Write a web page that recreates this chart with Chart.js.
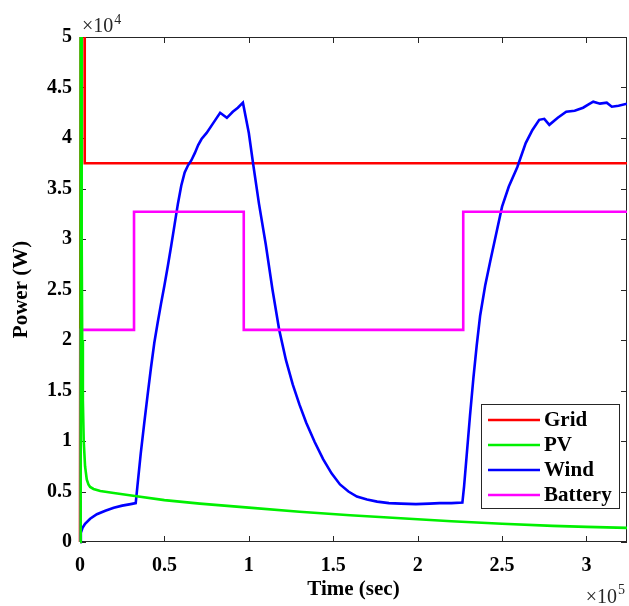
<!DOCTYPE html>
<html>
<head>
<meta charset="utf-8">
<script src="https://cdn.jsdelivr.net/npm/chart.js@4.4.1/dist/chart.umd.min.js"></script>
<style>
  html, body { margin: 0; padding: 0; background: #fff; }
  #wrap { width: 629px; height: 606px; }
</style>
</head>
<body>
<div id="wrap"><canvas id="powerChart" width="629" height="606"></canvas></div>
<script>
// tick positions (axis units: x in 1e5 s, y in 1e4 W)
const xTicks = [0, 0.5, 1, 1.5, 2, 2.5, 3];
const yTicks = [0, 0.5, 1, 1.5, 2, 2.5, 3, 3.5, 4, 4.5, 5];

// Grid power (s, W)
const gridT = [0, 600, 2500, 2800, 324000];
const gridP = [0, 80000, 80000, 37500, 37500];

// PV power
const pvT = [0, 400, 700, 1000, 1300, 1700, 2200, 3000, 4000, 5000, 6000, 8000, 12000, 20000, 32500, 50000, 71000, 100000, 130000, 160000, 190000, 220000, 250000, 280000, 300000, 324000];
const pvP = [0, 70000, 50000, 30000, 20000, 14000, 10000, 7500, 6200, 5700, 5450, 5250, 5050, 4850, 4550, 4150, 3800, 3400, 3000, 2650, 2350, 2050, 1800, 1600, 1500, 1400];

// Wind power
const windT = [0, 500, 1500, 3000, 6000, 10000, 15000, 20000, 25000, 30000, 33000,
  34000, 36000, 38000, 40000, 42000, 44000, 46000, 48000, 50000, 52000, 54000, 56000, 58000, 60000, 62000, 64000, 66000, 68000, 70000,
  72000, 75000, 79000, 83000, 87000, 90500, 93500, 96500,
  100000, 102500, 106000, 110000, 114000, 118000, 122000, 126000, 130000, 134000, 139000, 144000, 149000, 154000, 159000, 164000,
  170000, 176000, 183000, 190000, 199000, 207000, 213000, 220000, 226500,
  227500, 229000, 231000, 233000, 235000, 237000, 240000, 243000, 247000, 250000, 254000, 259000, 264000, 268000, 272000, 275000, 278000,
  283000, 288000, 293000, 298000, 301000, 304000, 308000, 312000, 315000, 319000, 324000];
const windP = [0, 900, 1400, 1800, 2300, 2750, 3100, 3400, 3600, 3750, 3850,
  5500, 8800, 11700, 14500, 17200, 19700, 21700, 23600, 25400, 27300, 29300, 31400, 33500, 35300, 36600, 37300, 37800, 38500, 39300,
  39900, 40500, 41500, 42500, 42000, 42600, 43000, 43500,
  40500, 37500, 33500, 29500, 25000, 21000, 18000, 15600, 13600, 11800, 9900, 8200, 6800, 5700, 5000, 4500,
  4200, 4000, 3850, 3800, 3750, 3800, 3850, 3850, 3900,
  5500, 8500, 12500, 16200, 19500, 22400, 25400, 27800, 30900, 33200, 35200, 37100, 39500, 40800, 41800, 41900, 41300,
  42000, 42600, 42700, 43000, 43300, 43600, 43400, 43500, 43100, 43200, 43400];

// Battery power
const batteryT = [0, 400, 32000, 32000, 97000, 97000, 227000, 227000, 324000];
const batteryP = [0, 21000, 21000, 32700, 32700, 21000, 21000, 32700, 32700];

const serif = "'Liberation Serif', 'Times New Roman', serif";
const axisColor = '#262626';

function toPoints(ts, ps) {
    return ts.map((t, i) => ({ x: t, y: ps[i] }));
}

function makeSeries(label, ts, ps, color, order) {
    return {
        label: label,
        data: toPoints(ts, ps),
        borderColor: color,
        backgroundColor: color,
        borderWidth: 2.6,
        showLine: true,
        pointRadius: 0,
        tension: 0,
        order: order,
        clip: { left: 3, right: 0, top: 0, bottom: 3 }
    };
}

// box with inward tick marks, like a matlab axes
const axesBox = {
    id: 'axesBox',
    beforeDatasetsDraw(chart) {
        const { ctx, chartArea: a, scales: { x, y } } = chart;
        ctx.save();
        ctx.strokeStyle = axisColor;
        ctx.lineWidth = 1;
        ctx.strokeRect(a.left + 0.5, a.top + 0.5, a.right - a.left - 1, a.bottom - a.top - 1);
        ctx.beginPath();
        x.ticks.forEach(t => {
            const px = Math.round(x.getPixelForValue(t.value)) + 0.5;
            ctx.moveTo(px, a.bottom); ctx.lineTo(px, a.bottom - 6);
            ctx.moveTo(px, a.top); ctx.lineTo(px, a.top + 6);
        });
        y.ticks.forEach(t => {
            const py = Math.round(y.getPixelForValue(t.value)) + 0.5;
            ctx.moveTo(a.left, py); ctx.lineTo(a.left + 6, py);
            ctx.moveTo(a.right, py); ctx.lineTo(a.right - 6, py);
        });
        ctx.stroke();
        ctx.restore();
    },
    afterDatasetsDraw(chart) {
        const { ctx, chartArea: a } = chart;
        ctx.save();
        // exponent labels
        ctx.fillStyle = axisColor;
        ctx.textBaseline = 'alphabetic';
        ctx.font = '20px ' + serif;
        ctx.fillText('\u00d710', a.left + 2, 32);
        let w = ctx.measureText('\u00d710').width;
        ctx.font = '14px ' + serif;
        ctx.fillText('4', a.left + 2 + w + 1, 24);
        ctx.font = '20px ' + serif;
        w = ctx.measureText('\u00d710').width;
        ctx.fillText('\u00d710', a.right - w - 10, 603);
        ctx.font = '14px ' + serif;
        ctx.fillText('5', a.right - 9, 594);

        // legend
        const bx = 481, by = 404, bw = 138, bh = 104;
        ctx.fillStyle = '#fff';
        ctx.fillRect(bx, by, bw, bh);
        ctx.strokeStyle = axisColor;
        ctx.lineWidth = 1;
        ctx.strokeRect(bx + 0.5, by + 0.5, bw, bh);
        ctx.font = 'bold 21px ' + serif;
        ctx.textBaseline = 'middle';
        chart.data.datasets.forEach((ds, i) => {
            const ry = 420 + i * 25;
            ctx.strokeStyle = ds.borderColor;
            ctx.lineWidth = 2.6;
            ctx.beginPath();
            ctx.moveTo(488, ry);
            ctx.lineTo(540, ry);
            ctx.stroke();
            ctx.fillStyle = '#000';
            ctx.fillText(ds.label, 544, ry + 1);
        });
        ctx.restore();
    }
};

const ctx = document.getElementById('powerChart').getContext('2d');
const chart = new Chart(ctx, {
    type: 'scatter',
    data: {
        datasets: [
            makeSeries('Grid', gridT, gridP, '#ff0000', 4),
            makeSeries('PV', pvT, pvP, '#00f000', 0),
            makeSeries('Wind', windT, windP, '#0000ff', 2),
            makeSeries('Battery', batteryT, batteryP, '#ff00ff', 1)
        ]
    },
    options: {
        responsive: false,
        animation: false,
        devicePixelRatio: 1,
        layout: { padding: { top: 37, right: 2, left: 0, bottom: 0 } },
        plugins: {
            legend: { display: false },
            tooltip: { enabled: false }
        },
        scales: {
            x: {
                type: 'linear',
                min: 0,
                max: 324000,
                afterBuildTicks: s => { s.ticks = xTicks.map(v => ({ value: v * 1e5 })); },
                afterFit: s => { s.height = 64; },
                grid: { display: false, drawTicks: false },
                border: { display: false },
                ticks: {
                    autoSkip: false,
                    maxRotation: 0,
                    padding: 12,
                    color: '#000',
                    font: { family: serif, size: 20, weight: 'bold' },
                    callback: v => String(+(v / 1e5).toFixed(1))
                },
                title: {
                    display: true,
                    text: 'Time (sec)',
                    color: '#000',
                    padding: { top: 0, bottom: 4 },
                    font: { family: serif, size: 21, weight: 'bold' }
                }
            },
            y: {
                type: 'linear',
                min: 0,
                max: 50000,
                afterBuildTicks: s => { s.ticks = yTicks.map(v => ({ value: v * 1e4 })); },
                afterFit: s => { s.width = 80; },
                grid: { display: false, drawTicks: false },
                border: { display: false },
                ticks: {
                    autoSkip: false,
                    padding: 8,
                    color: '#000',
                    font: { family: serif, size: 20, weight: 'bold' },
                    callback: v => String(+(v / 1e4).toFixed(1))
                },
                title: {
                    display: true,
                    text: 'Power (W)',
                    color: '#000',
                    padding: { top: 9, bottom: 0 },
                    font: { family: serif, size: 21, weight: 'bold' }
                }
            }
        }
    },
    plugins: [axesBox]
});
</script>
</body>
</html>
